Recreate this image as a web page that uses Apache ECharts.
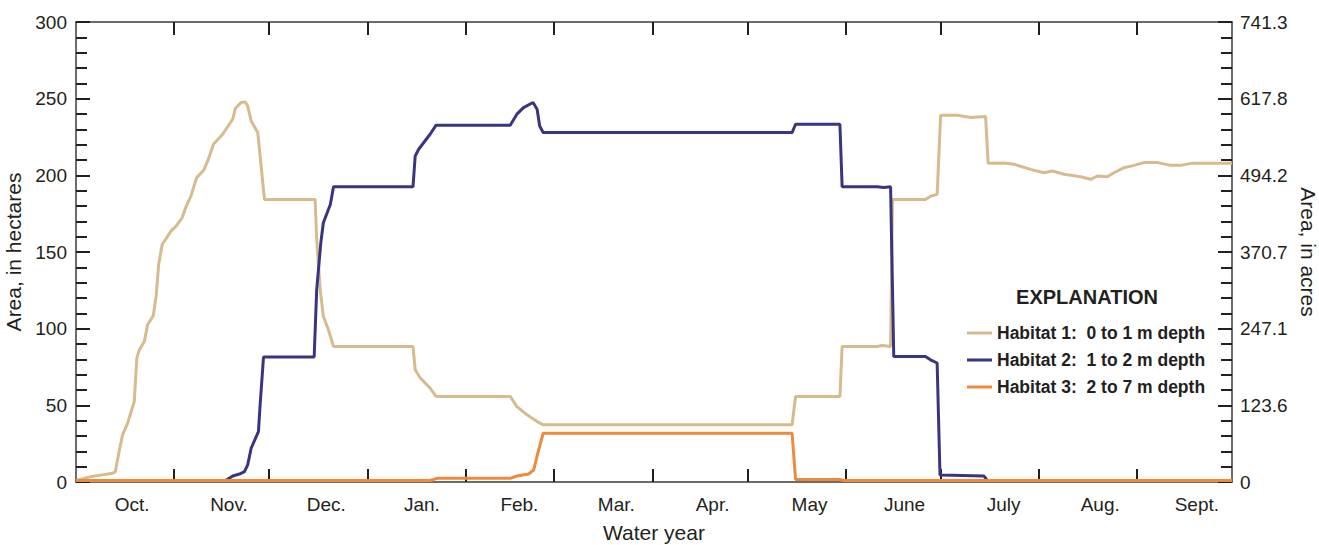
<!DOCTYPE html>
<html>
<head>
<meta charset="utf-8">
<title>Habitat area</title>
<script src="https://cdn.jsdelivr.net/npm/echarts@6/dist/echarts.min.js"></script>
<style>
  html, body { margin: 0; padding: 0; background: #fff; }
  #chart { width: 1319px; height: 545px; }
</style>
</head>
<body>
<div id="chart"></div>
<script>
// days since Oct. 1 of the water year, area in hectares
const habitat1 = [
  [0, 1], [4.7, 3.5], [11.6, 5.7], [12.4, 6.7], [13.7, 20.9], [14.7, 30.7], [16.3, 38.4],
  [18.4, 52.5], [19.2, 80.8], [20, 86.3], [21.6, 91.7], [22.6, 102.6], [24.4, 108.5],
  [25.3, 121.1], [26.1, 141.8], [27.2, 154.9], [30, 163.6], [31.6, 166.9], [33.5, 172.3],
  [34.8, 179.9], [36.3, 186.5], [38.1, 198.5], [40.3, 203.3], [41.6, 209.4], [43.4, 220.3],
  [46.3, 226.8], [48.4, 233.3], [49.5, 236.6], [50.3, 243.6], [52.1, 247.5], [53.4, 247.9],
  [54.2, 245.3], [55.3, 235.5], [57.4, 227.9], [59.5, 184.3], [75.5, 184.3], [76, 158],
  [77.1, 125.5], [78.1, 108], [79.7, 99.3], [81.3, 88.4], [106.4, 88.4], [107.1, 73.2],
  [108.7, 67.8], [111.8, 61.2], [113.7, 55.8], [137.1, 55.8], [139.2, 49.2], [142.4, 43.8],
  [145.6, 39.4], [147.6, 37.3], [226.1, 37.3], [227.2, 55.8], [241.2, 55.8], [241.9, 88.4],
  [253, 88.4], [254.5, 89], [257.2, 88.4], [257.8, 184.3], [268.2, 184.3], [270, 186.5],
  [271.9, 187.6], [273, 239.2], [278.3, 239.2], [282.5, 237.7], [287.2, 238.3], [288, 207.8],
  [293, 208], [296.2, 207.2], [301.4, 203.9], [305.6, 201.7], [308.3, 202.8], [312, 200.7],
  [317.2, 199.1], [320.4, 197.4], [322.5, 199.5], [325.6, 199.1], [327.7, 201.7], [330.9, 205],
  [334.1, 206.5], [337.2, 208.3], [341.5, 208.3], [345.7, 206.5], [348.8, 206.5], [352, 207.8],
  [365, 207.8]
]
const habitat2 = [
  [0, 1], [47.2, 1], [49.5, 3.9], [51.6, 5.2], [53.2, 6.7], [54.2, 11.1], [55.3, 22],
  [56.9, 29.6], [57.6, 32.9], [58.1, 49.2], [59.2, 81.5], [75.2, 81.5], [76, 125.5],
  [77.3, 156], [78.1, 169.1], [80.3, 181], [81.3, 192.5], [106.4, 192.5], [107.1, 212.6],
  [108.2, 217], [111.8, 226.8], [113.7, 232.7], [137.1, 232.7], [139.2, 239.9], [141.3, 244.2],
  [144.3, 247.5], [145.6, 243.1], [146.4, 232.2], [147.5, 227.9], [226.1, 227.9], [227.2, 233.3],
  [241.2, 233.3], [241.9, 192.6], [253, 192.6], [255, 192], [257.2, 192.6], [258.2, 81.9],
  [268.2, 81.9], [269.8, 79.7], [271.9, 77.6], [272.8, 4.6], [286.7, 3.9], [287.7, 1], [365, 1]
]
const habitat3 = [
  [0, 1], [111.8, 1], [114, 2.4], [137.1, 2.4], [139.2, 3.9], [142.9, 5.2], [144.5, 7.8],
  [145.8, 18.7], [147.5, 31.8], [226.1, 31.8], [227.2, 1.7], [241.2, 1.7], [242.4, 1], [365, 1]
]

const seriesNames = ['Habitat 1:  0 to 1 m depth', 'Habitat 2:  1 to 2 m depth', 'Habitat 3:  2 to 7 m depth']
const seriesColors = ['#d5bb8d', '#3a3580', '#ef8a3c']

// month boundaries (day of water year) and where the month names sit
const monthStarts = [31, 61, 92, 123, 151, 182, 212, 243, 273, 304, 335]
const monthNames = ['Oct.', 'Nov.', 'Dec.', 'Jan.', 'Feb.', 'Mar.', 'Apr.', 'May', 'June', 'July', 'Aug.', 'Sept.']
const monthLabelDays = [17.7, 48.3, 79, 109.2, 140, 170.6, 201, 231.6, 261.6, 292.9, 323.4, 353.9]

const hectareTicks = [0, 50, 100, 150, 200, 250, 300]
const acreLabels = ['0', '123.6', '247.1', '370.7', '494.2', '617.8', '741.3']

const FONT = '"Liberation Sans", Arial, sans-serif'
const INK = '#231f20'

function monthName(value) {
  let best = 0
  monthLabelDays.forEach((d, i) => {
    if (Math.abs(d - value) < Math.abs(monthLabelDays[best] - value)) best = i
  })
  return monthNames[best]
}

function xAxisBase(position) {
  return {
    type: 'value',
    position: position,
    min: 0,
    max: 365,
    axisLine: { show: true, onZero: false, lineStyle: { color: '#3b3b3b', width: 1.5 } },
    axisTick: {
      show: true,
      inside: true,
      length: 13,
      customValues: monthStarts,
      lineStyle: { color: INK, width: 2 }
    },
    splitLine: { show: false }
  }
}

function yAxisBase(position) {
  return {
    type: 'value',
    position: position,
    min: 0,
    max: 300,
    interval: 50,
    axisLine: { show: true, onZero: false, lineStyle: { color: '#3b3b3b', width: 1.5 } },
    axisTick: { show: true, inside: true, length: 14, lineStyle: { color: INK, width: 2 } },
    minorTick: { show: true, splitNumber: 5, length: 11, lineStyle: { color: INK, width: 2 } },
    splitLine: { show: false },
    minorSplitLine: { show: false },
    nameLocation: 'middle',
    nameTextStyle: { fontFamily: FONT, fontSize: 21, color: INK }
  }
}

function initChart() {
  const chart = echarts.init(document.getElementById('chart'), null, { renderer: 'svg' })

  const bottomAxis = xAxisBase('bottom')
  bottomAxis.name = 'Water year'
  bottomAxis.nameLocation = 'middle'
  bottomAxis.nameGap = 40
  bottomAxis.nameTextStyle = { fontFamily: FONT, fontSize: 21, color: INK }
  bottomAxis.axisLabel = {
    show: true,
    customValues: monthLabelDays,
    formatter: monthName,
    margin: 13,
    fontFamily: FONT,
    fontSize: 19,
    color: INK
  }

  const topAxis = xAxisBase('top')
  topAxis.axisLabel = { show: false }

  const leftAxis = yAxisBase('left')
  leftAxis.name = 'Area, in hectares'
  leftAxis.nameGap = 44
  leftAxis.axisLabel = { margin: 9, fontFamily: FONT, fontSize: 19, color: INK }

  const rightAxis = yAxisBase('right')
  rightAxis.name = 'Area, in acres'
  rightAxis.nameRotate = -90
  rightAxis.nameGap = 62
  rightAxis.axisLabel = {
    margin: 8,
    fontFamily: FONT,
    fontSize: 19,
    color: INK,
    formatter: v => acreLabels[hectareTicks.indexOf(v)]
  }

  const data = [habitat1, habitat2, habitat3]

  chart.setOption({
    animation: false,
    grid: { left: 76, right: 87, top: 22, bottom: 63, containLabel: false, outerBoundsMode: 'none' },
    xAxis: [bottomAxis, topAxis],
    yAxis: [leftAxis, rightAxis],
    legend: {
      orient: 'vertical',
      left: 962,
      top: 318,
      icon: 'rect',
      itemWidth: 25,
      itemHeight: 3,
      itemGap: 7,
      textStyle: { fontFamily: FONT, fontSize: 17.5, fontWeight: 'bold', color: INK, lineHeight: 20 },
      data: seriesNames
    },
    graphic: [{
      type: 'text',
      x: 1087,
      y: 297,
      style: {
        text: 'EXPLANATION',
        align: 'center',
        verticalAlign: 'middle',
        fontFamily: FONT,
        fontSize: 20,
        fontWeight: 'bold',
        fill: INK
      }
    }],
    series: data.map((d, i) => ({
      name: seriesNames[i],
      type: 'line',
      xAxisIndex: 0,
      yAxisIndex: 0,
      symbol: 'none',
      data: d,
      color: seriesColors[i],
      lineStyle: { color: seriesColors[i], width: 3 }
    }))
  })
}

initChart()
</script>
</body>
</html>
